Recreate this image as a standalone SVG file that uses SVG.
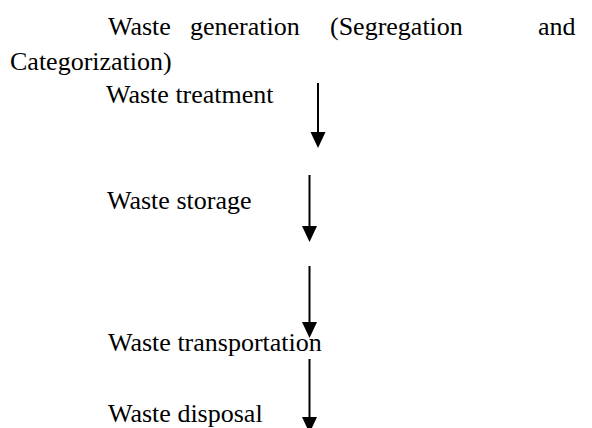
<svg xmlns="http://www.w3.org/2000/svg" width="592" height="428" viewBox="0 0 592 428">
<style>
text{font-family:'Liberation Serif','Times New Roman','DejaVu Serif',serif;font-size:26px;fill:#000}
.c line{stroke:#000;stroke-width:2}
.c path{fill:#000}
</style>
<rect width="592" height="428" fill="#fff"/>
<g id="n1">
<text x="108" y="35">Waste</text>
<text x="190" y="35">generation</text>
<text x="330" y="35">(Segregation</text>
<text x="538" y="35">and</text>
<text x="10" y="70">Categorization)</text>
</g>
<g id="n2"><text x="106" y="103">Waste treatment</text></g>
<g id="n3"><text x="107" y="209">Waste storage</text></g>
<g id="n4"><text x="108" y="351">Waste transportation</text></g>
<g id="n5"><text x="108" y="422">Waste disposal</text></g>
<g id="connectors" class="c">
<line x1="318" y1="83" x2="318" y2="133"/><path d="M310.5 132 L325.5 132 L318 148 Z"/>
<line x1="309.5" y1="175" x2="309.5" y2="227"/><path d="M302 226 L317 226 L309.5 242 Z"/>
<line x1="309.5" y1="266" x2="309.5" y2="323"/><path d="M302 322 L317 322 L309.5 338 Z"/>
<line x1="309.5" y1="359" x2="309.5" y2="418"/><path d="M302 417 L317 417 L309.5 433 Z"/>
</g>
</svg>
